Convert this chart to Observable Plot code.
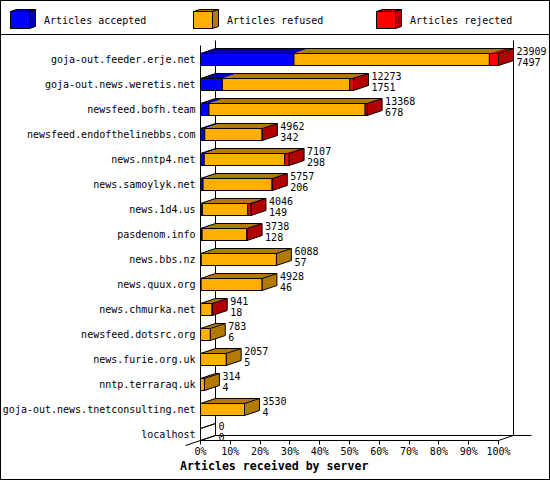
<!DOCTYPE html>
<html>
<head>
<meta charset="utf-8">
<script src="https://cdn.jsdelivr.net/npm/d3@7"></script>
<script src="https://cdn.jsdelivr.net/npm/@observablehq/plot@0.6"></script>
<style>
  body { margin: 0; background: #fff; }
  #wrap { position: relative; width: 550px; height: 480px; overflow: hidden; background: #fff;
          font-family: "DejaVu Sans Mono", monospace; }
  #legend { position: relative; height: 34px; border-bottom: 1px solid #000; }
  .swatch { position: absolute; top: 8px; }
  .ltext { position: absolute; top: 14px; font-size: 10px; line-height: 13px; white-space: pre; color: #000; }
  #caption { position: absolute; left: 180px; top: 459px; font-size: 11.6px; line-height: 15px; font-weight: bold; white-space: pre; color: #000; }
  #border { position: absolute; left: 0; top: 0; width: 550px; height: 480px; box-sizing: border-box; border: 1px solid #000; pointer-events: none; }
  #chart svg { display: block; }
</style>
</head>
<body>
<div id="wrap">
  <div id="legend"></div>
  <div id="chart"></div>
  <div id="caption"></div>
  <div id="border"></div>
</div>
<script>
// ---- data ----
const servers = [
  "goja-out.feeder.erje.net", "goja-out.news.weretis.net", "newsfeed.bofh.team",
  "newsfeed.endofthelinebbs.com", "news.nntp4.net", "news.samoylyk.net", "news.1d4.us",
  "pasdenom.info", "news.bbs.nz", "news.quux.org", "news.chmurka.net", "newsfeed.dotsrc.org",
  "news.furie.org.uk", "nntp.terraraq.uk", "goja-out.news.tnetconsulting.net", "localhost"
];
const offered  = [23909, 12273, 13368, 4962, 7107, 5757, 4046, 3738, 6088, 4928, 941, 783, 2057, 314, 3530, 0];
const accepted = [7497, 1751, 678, 342, 298, 206, 149, 128, 57, 46, 18, 6, 5, 4, 4, 0];
const rejected = [730, 290, 160, 20, 350, 15, 250, 20, 0, 0, 10, 0, 0, 0, 0, 0];
const seriesNames = ["Articles accepted", "Articles refused", "Articles rejected"];
const frontColors = ["#0000ff", "#ffaf00", "#ff0000"];
const darkColors  = ["#0000b2", "#b27a00", "#b20000"];
const xTicks = [0, 10, 20, 30, 40, 50, 60, 70, 80, 90, 100];
const xTitle = "Articles received by server";

// ---- derived table ----
const maxOff = d3.max(offered);
const rows = servers.map((s, i) => {
  const vals = [accepted[i], offered[i] - accepted[i] - rejected[i], rejected[i]];
  let acc = 0;
  const segs = vals.map((v, k) => { const a = acc; acc += v; return {k, v, x1: a / maxOff * 100, x2: acc / maxOff * 100}; });
  const last = [...segs].reverse().find(d => d.v > 0);
  return {server: s, total: offered[i], acc: accepted[i], pct: offered[i] / maxOff * 100, k: last ? last.k : -1, segs};
});

// ---- 3D geometry (pixels) ----
const DX = 15, DY = 5, INSET_TOP = 6, BAR_H = 12;

function bars3d(index, scales, values) {
  const X = scales.x, Yv = values.y;
  const g = d3.create("svg:g").attr("transform", "translate(0.5,0.5)")
    .attr("stroke", "#000").attr("stroke-width", 1);
  for (const i of index) {
    const r = rows[i];
    const yt = Math.round(Yv[i]) + INSET_TOP, yb = yt + BAR_H;
    const xs = X(0), xe = X(r.pct);
    const segs = r.segs.filter(s => s.v > 0);
    for (const s of segs) {
      const a = X(s.x1), b = X(s.x2);
      g.append("path")
        .attr("d", `M${a},${yt}L${a + DX},${yt - DY}L${b + DX},${yt - DY}L${b},${yt}Z`)
        .attr("fill", darkColors[s.k]).attr("stroke", "none");
    }
    g.append("path")
      .attr("d", `M${xe},${yt}L${xe + DX},${yt - DY}L${xe + DX},${yb - DY}L${xe},${yb}Z`)
      .attr("fill", r.k >= 0 ? darkColors[r.k] : "none");
    g.append("path")
      .attr("d", `M${xs},${yt}L${xs + DX},${yt - DY}L${xe + DX},${yt - DY}`)
      .attr("fill", "none");
    for (const s of segs) {
      const a = X(s.x1), b = X(s.x2);
      g.append("rect").attr("x", a).attr("y", yt).attr("width", Math.max(0, b - a)).attr("height", BAR_H)
        .attr("fill", frontColors[s.k]);
    }
  }
  return g.node();
}

function walls(index, scales, values, dim) {
  const X = scales.x;
  const x0 = X(0), x1 = X(100);
  const floorY = scales.y(servers[servers.length - 1]) + INSET_TOP + BAR_H;
  const topY = dim.marginTop - 2;
  const d = [
    `M${x0},${topY}L${x0},${floorY}`,
    `M${x0 + DX},${topY - DY}L${x0 + DX},${floorY - DY}`,
    `M${x1 + DX},${topY - DY}L${x1 + DX},${floorY - DY}`,
    `M${x0 + DX},${floorY - DY}L${x1 + DX + 18},${floorY - DY}`,
    `M${x0},${floorY}L${x1},${floorY}L${x1 + DX},${floorY - DY}`,
    `M${x0 - DX},${floorY + DY}L${x0 + DX},${floorY - DY}`
  ].join("");
  const g = d3.create("svg:g").attr("transform", "translate(0.5,0.5)");
  g.append("path").attr("d", d).attr("fill", "none").attr("stroke", "#000").attr("stroke-width", 1);
  const ticks = xTicks.map(t => `M${Math.round(X(t))},${floorY}L${Math.round(X(t))},${floorY + 4}`).join("");
  g.append("path").attr("d", ticks).attr("fill", "none").attr("stroke", "#000");
  return g.node();
}

const chart = Plot.plot({
  width: 550,
  height: 425,
  marginTop: 12,
  marginBottom: 13,
  marginLeft: 200,
  marginRight: 52,
  style: {fontFamily: "DejaVu Sans Mono", fontSize: "10px", background: "transparent", color: "#000", overflow: "visible"},
  x: {domain: [0, 100], range: [200, 498], axis: null},
  y: {domain: servers, range: [12, 412], padding: 0},
  marks: [
    walls,
    Plot.barX(rows, {x1: 0, x2: "pct", y: "server", render: bars3d}),
    Plot.text(rows, {x: "pct", y: "server", text: d => `${d.total}\n${d.acc}`, dx: 18, dy: -3.5,
                     textAnchor: "start", lineHeight: 1.1, fill: "#000"}),
    Plot.axisY({tickSize: 0, tickPadding: 5, label: null, fill: "#000"}),
    Plot.text(xTicks, {x: d => d, frameAnchor: "bottom", lineAnchor: "middle", text: d => d + "%", dy: 4.5, fill: "#000"})
  ]
});
document.getElementById("chart").append(chart);

// ---- legend ----
const legend = d3.select("#legend");
seriesNames.forEach((name, i) => {
  const left = 10 + 183 * i;
  const sw = legend.append("svg").attr("class", "swatch").attr("width", 28).attr("height", 24)
    .style("left", left + "px");
  const g = sw.append("g").attr("transform", "translate(0.5,0.5)").attr("stroke", "#000");
  g.append("path").attr("d", "M0,3L6,1L25,1L19,3Z").attr("fill", darkColors[i]);
  g.append("path").attr("d", "M19,3L25,1L25,18L19,20Z").attr("fill", darkColors[i]);
  g.append("rect").attr("x", 0).attr("y", 3).attr("width", 19).attr("height", 17).attr("fill", frontColors[i]);
  legend.append("div").attr("class", "ltext").style("left", (left + 34) + "px").text(name);
});
d3.select("#caption").text(xTitle);
</script>
</body>
</html>
